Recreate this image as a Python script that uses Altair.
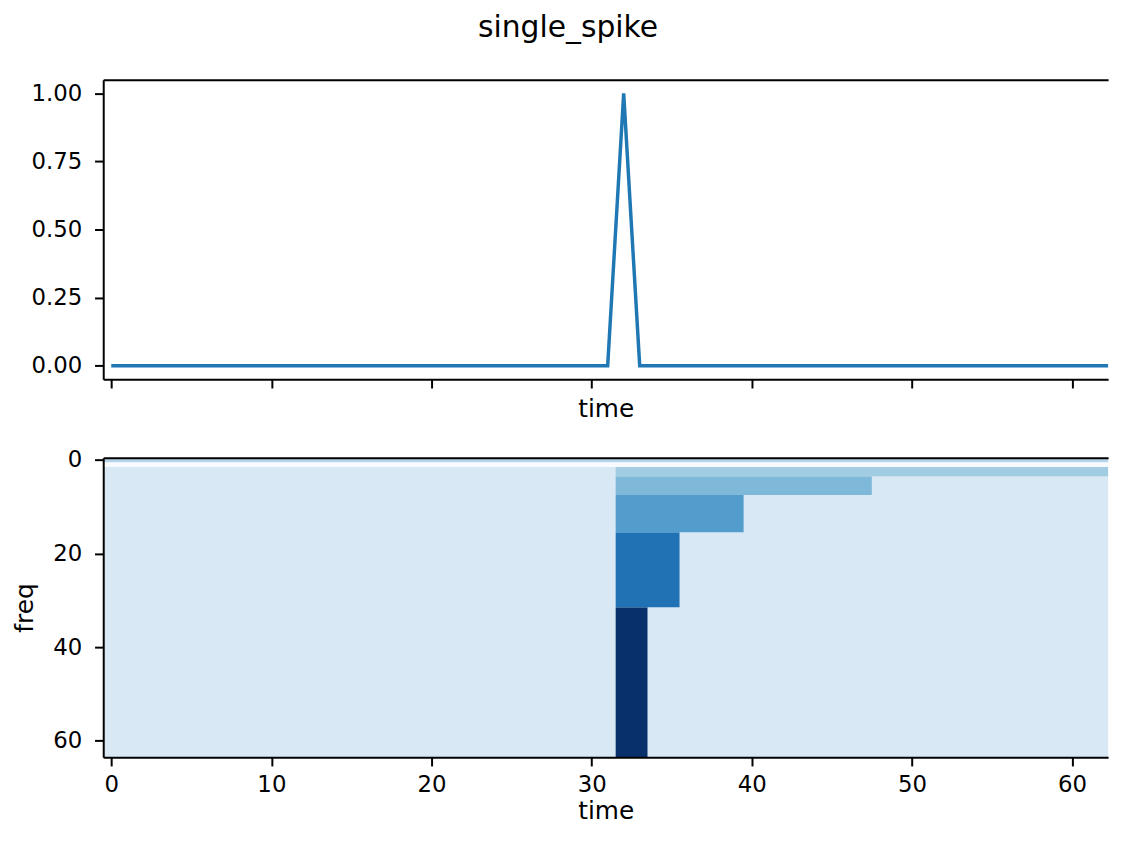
import altair as alt
import pandas as pd

# ---- top panel: the signal ----
signal_values = [0, 0, 0, 0, 0, 0, 0, 0, 0, 0, 0, 0, 0, 0, 0, 0,
                 0, 0, 0, 0, 0, 0, 0, 0, 0, 0, 0, 0, 0, 0, 0, 0,
                 1, 0, 0, 0, 0, 0, 0, 0, 0, 0, 0, 0, 0, 0, 0, 0,
                 0, 0, 0, 0, 0, 0, 0, 0, 0, 0, 0, 0, 0, 0, 0, 0]
signal_time = list(range(len(signal_values)))

# ---- bottom panel: scalogram cells (time span, freq span, value) ----
cell_t0 = [-0.5,
           -0.5, -0.5,
           -0.5, 31.5,
           -0.5, 31.5, 47.5,
           -0.5, 31.5, 39.5,
           -0.5, 31.5, 35.5,
           -0.5, 31.5, 33.5]
cell_t1 = [63.5,
           63.5, 63.5,
           31.5, 63.5,
           31.5, 47.5, 63.5,
           31.5, 39.5, 63.5,
           31.5, 35.5, 63.5,
           31.5, 33.5, 63.5]
cell_f0 = [-0.5,
           -0.5, 0.5,
           1.5, 1.5,
           3.5, 3.5, 3.5,
           7.5, 7.5, 7.5,
           15.5, 15.5, 15.5,
           31.5, 31.5, 31.5]
cell_f1 = [63.5,
           0.5, 1.5,
           3.5, 3.5,
           7.5, 7.5, 7.5,
           15.5, 15.5, 15.5,
           31.5, 31.5, 31.5,
           63.5, 63.5, 63.5]
cell_value = [0.0,
              0.125, -0.125,
              0.0, 0.177,
              0.0, 0.25, 0.0,
              0.0, 0.354, 0.0,
              0.0, 0.5, 0.0,
              0.0, 0.707, 0.0]

time_ticks = [0, 10, 20, 30, 40, 50, 60]
value_ticks = [0, 0.25, 0.5, 0.75, 1.0]
freq_ticks = [0, 20, 40, 60]

blues_domain = [-0.125, -0.02099, 0.08302, 0.18703, 0.29104, 0.39505, 0.49906, 0.60307, 0.70708]
blues_range = ["#f7fbff", "#deebf7", "#c6dbef", "#9ecae1", "#6baed6",
               "#4292c6", "#2171b5", "#08519c", "#08306b"]

line_df = pd.DataFrame({"time": signal_time, "value": signal_values})
cell_df = pd.DataFrame({"t0": cell_t0, "t1": cell_t1, "f0": cell_f0,
                        "f1": cell_f1, "value": cell_value})

W = 1013
H = 302
xscale = alt.Scale(domain=[-0.5, 62.25], nice=False, zero=False)

top_line = alt.Chart(line_df).mark_line(color="#1f77b4", strokeWidth=3.5, clip=True).encode(
    x=alt.X("time:Q", scale=xscale,
            axis=alt.Axis(values=time_ticks, labels=False, title="time", orient="bottom",
                          titlePadding=8, zindex=1)),
    y=alt.Y("value:Q", scale=alt.Scale(domain=[-0.05, 1.05], nice=False, zero=False),
            axis=alt.Axis(values=value_ticks, format=".2f", title=None, labelPadding=13,
                          zindex=1)),
)
top_border = alt.Chart(line_df).mark_line(opacity=0).encode(
    x=alt.X("time:Q", scale=xscale,
            axis=alt.Axis(orient="top", labels=False, ticks=False, title=None, domain=True,
                          zindex=1)),
    y=alt.Y("value:Q"),
)
top = alt.layer(top_line, top_border).resolve_axis(x="independent").properties(width=W, height=H)

rects = alt.Chart(cell_df).mark_rect(clip=True, strokeWidth=0).encode(
    x=alt.X("t0:Q", scale=xscale,
            axis=alt.Axis(values=time_ticks, format="d", title="time", orient="bottom",
                          labelPadding=8, titlePadding=2, zindex=1)),
    x2="t1:Q",
    y=alt.Y("f0:Q", scale=alt.Scale(domain=[-0.5, 63.5], reverse=True, nice=False, zero=False),
            axis=alt.Axis(values=freq_ticks, format="d", title="freq", labelPadding=13,
                          titlePadding=15, zindex=1)),
    y2="f1:Q",
    color=alt.Color("value:Q",
                    scale=alt.Scale(domain=blues_domain, range=blues_range, interpolate="rgb"),
                    legend=None),
)
bottom_border = alt.Chart(cell_df).mark_rect(opacity=0).encode(
    x=alt.X("t0:Q", scale=xscale,
            axis=alt.Axis(orient="top", labels=False, ticks=False, title=None, domain=True,
                          zindex=1)),
    y=alt.Y("f0:Q"),
)
bottom = alt.layer(rects, bottom_border).resolve_axis(x="independent").properties(width=W, height=H)

chart = alt.vconcat(top, bottom, spacing=79, bounds="flush").properties(
    title=alt.TitleParams("single_spike", anchor="middle", frame="group", fontSize=30,
                          font="DejaVu Sans", fontWeight="normal", color="#000000",
                          offset=37, dx=-38),
    padding={"left": 4, "top": 2, "right": 0, "bottom": 0},
    background="white",
).configure_view(stroke=None).configure_axis(
    grid=False,
    domainColor="#000000", domainWidth=2,
    tickColor="#000000", tickWidth=2, tickSize=8.75,
    labelFont="DejaVu Sans", labelFontSize=23, labelColor="#000000", labelPadding=11,
    titleFont="DejaVu Sans", titleFontSize=25, titleFontWeight="normal", titleColor="#000000",
)

chart.save("out.html", embed_options={"renderer": "svg", "actions": False})
